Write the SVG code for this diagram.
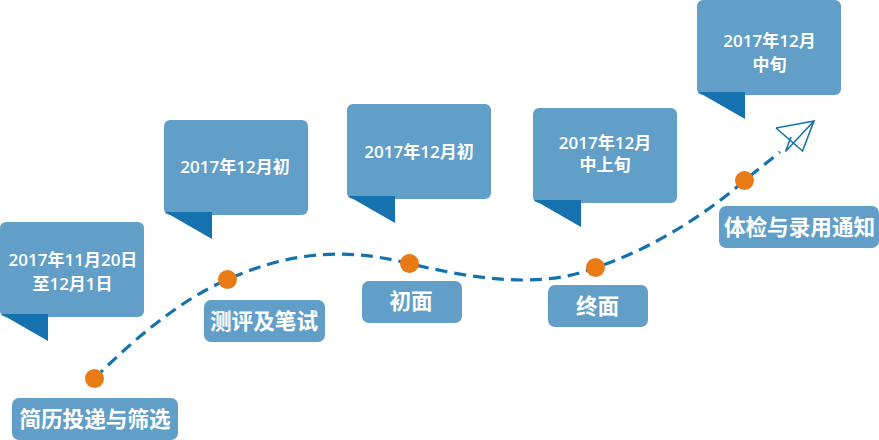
<svg xmlns="http://www.w3.org/2000/svg" width="879" height="440" viewBox="0 0 879 440">
<style>
.box{fill:#629fc8}
.fold{fill:#1672ae}
.dot{fill:#e97b17}
text{fill:#fff;font-family:"Open Sans","Noto Sans CJK SC",sans-serif;text-anchor:middle}
.d{font-size:17px;font-weight:600}
.l{font-size:21.600px;font-weight:700}
.curve{fill:none;stroke:#1672ae;stroke-width:3.2;stroke-dasharray:12 7}
.plane{fill:none;stroke:#1672ae;stroke-width:1.6;stroke-linejoin:miter}
</style>
<g id="connectors">
<path class="curve" d="M94.500 378.500C125 348 175 302 227.500 279.500C285 254 340 246 409 263.500C470 278 540 290 595.500 267.500C650 250 705 215 744.500 180.500L780 152"/>
</g>
<g id="plane"><path class="plane" d="M776 128L814 121L802.500 151L776 128M814 121L785.500 151.500L791 137"/></g>
<g id="callout-1"><rect class="box" x="0" y="222" width="144" height="95" rx="6"/><path class="fold" d="M1 314H48V341Z"/><text class="d" x="73" y="266">2017年11月20日</text><text class="d" x="72.500" y="290">至12月1日</text></g>
<g id="callout-2"><rect class="box" x="164" y="120" width="144" height="95" rx="6"/><path class="fold" d="M165 212H212V239Z"/><text class="d" x="235" y="173">2017年12月初</text></g>
<g id="callout-3"><rect class="box" x="347" y="104" width="144" height="95" rx="6"/><path class="fold" d="M348 196H395V223Z"/><text class="d" x="419" y="158">2017年12月初</text></g>
<g id="callout-4"><rect class="box" x="533" y="108" width="144" height="95" rx="6"/><path class="fold" d="M534 200H581V227Z"/><text class="d" x="605" y="149">2017年12月</text><text class="d" x="605" y="171">中上旬</text></g>
<g id="callout-5"><rect class="box" x="697" y="0" width="144" height="95" rx="6"/><path class="fold" d="M698 92H745V119Z"/><text class="d" x="769.500" y="47">2017年12月</text><text class="d" x="769.500" y="71">中旬</text></g>
<g id="step-1"><circle class="dot" cx="94.500" cy="378.500" r="9.500"/><rect class="box" x="12" y="398" width="166" height="42" rx="7"/><text class="l" x="95" y="427">简历投递与筛选</text></g>
<g id="step-2"><circle class="dot" cx="227.500" cy="279.500" r="9.500"/><rect class="box" x="204" y="300" width="121" height="42" rx="7"/><text class="l" x="264" y="329">测评及笔试</text></g>
<g id="step-3"><circle class="dot" cx="409.500" cy="263.500" r="9.500"/><rect class="box" x="362" y="281" width="100" height="42" rx="7"/><text class="l" x="411" y="309">初面</text></g>
<g id="step-4"><circle class="dot" cx="595.500" cy="267.500" r="9.500"/><rect class="box" x="548" y="285" width="100" height="42" rx="7"/><text class="l" x="597.500" y="314">终面</text></g>
<g id="step-5"><circle class="dot" cx="744.500" cy="180.500" r="9.500"/><rect class="box" x="719" y="206" width="160" height="42" rx="7"/><text class="l" x="799.500" y="235">体检与录用通知</text></g>
</svg>
